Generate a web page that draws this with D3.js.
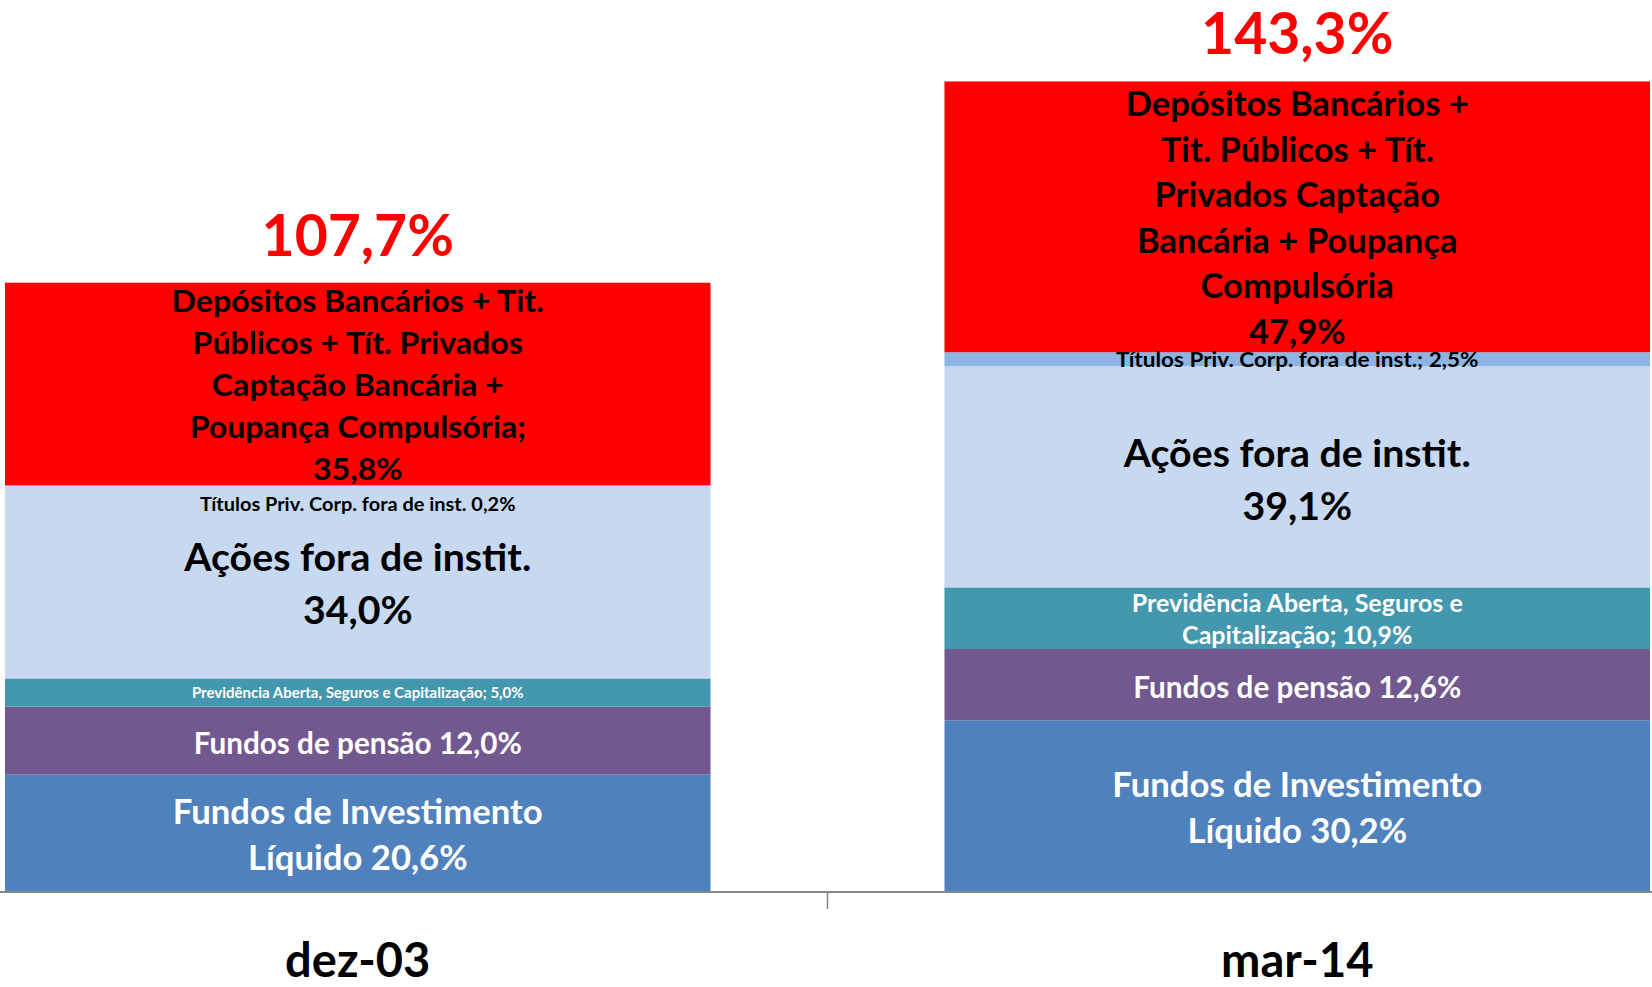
<!DOCTYPE html>
<html lang="pt">
<head>
    <meta charset="UTF-8">
    <title>Composição da poupança financeira</title>
    <script src="https://d3js.org/d3.v7.min.js"></script>
    <style>
        body { margin: 0; background: #fff; }
        svg text { font-family: Lato, "Open Sans", sans-serif; font-weight: 700; }
    </style>
</head>
<body>
    <script>
        // Data (% of GDP)
        const categories = ["dez-03", "mar-14"];
        const totals = ["107,7%", "143,3%"];
        const seriesNames = ["Fundos de Investimento Líquido", "Fundos de pensão",
            "Previdência Aberta, Seguros e Capitalização", "Ações fora de instit.",
            "Títulos Priv. Corp. fora de inst.", "Depósitos Bancários + Tít. Públicos + Tít. Privados"];
        const fundosInvest = [20.6, 30.2];
        const fundosPensao = [12.0, 12.6];
        const previdencia = [5.0, 10.9];
        const acoes = [34.0, 39.1];
        const titulosPriv = [0.2, 2.5];
        const depositos = [35.8, 47.9];

        // Label text, as broken into lines in the original
        const labelsInvest = [["Fundos de Investimento", "Líquido 20,6%"], ["Fundos de Investimento", "Líquido 30,2%"]];
        const labelsPensao = [["Fundos de pensão 12,0%"], ["Fundos de pensão 12,6%"]];
        const labelsPrev = [["Previdência Aberta, Seguros e Capitalização; 5,0%"], ["Previdência Aberta, Seguros e", "Capitalização; 10,9%"]];
        const labelsAcoes = [["Ações fora de instit.", "34,0%"], ["Ações fora de instit.", "39,1%"]];
        const labelsTitulos = [["Títulos Priv. Corp. fora de inst. 0,2%"], ["Títulos Priv. Corp. fora de inst.; 2,5%"]];
        const labelsDep = [
            ["Depósitos Bancários + Tit.", "Públicos + Tít. Privados", "Captação Bancária +", "Poupança Compulsória;", "35,8%"],
            ["Depósitos Bancários +", "Tit. Públicos + Tít.", "Privados Captação", "Bancária + Poupança", "Compulsória", "47,9%"]
        ];

        const seriesValues = [fundosInvest, fundosPensao, previdencia, acoes, titulosPriv, depositos];
        const seriesLabels = [labelsInvest, labelsPensao, labelsPrev, labelsAcoes, labelsTitulos, labelsDep];

        // Styling, per series
        const colors = ["#4F81BD", "#71588F", "#4398AF", "#C6D9F1", "#8DB4E2", "#FF0000"];
        const textColors = ["#fff", "#fff", "#fff", "#000", "#000", "#000"];
        // font size / line height / horizontal stretch per series and bar;
        // dy nudges a label off the centre of its slice (the tiny 0,2% one mostly)
        const labelStyle = [
            [{ fs: 34, lh: 46.5, sx: 1.02, dy: 2 }, { fs: 34, lh: 46.5, sx: 1.02, dy: 2 }],
            [{ fs: 29.7, lh: 40, sx: 1.0, dy: 3 }, { fs: 29.7, lh: 40, sx: 1.0, dy: 3 }],
            [{ fs: 15, lh: 20, sx: 1.0 }, { fs: 25, lh: 32, sx: 1.0, dy: 1 }],
            [{ fs: 38.5, lh: 53, sx: 1.02, dy: 1 }, { fs: 38.5, lh: 53, sx: 1.02, dy: 3 }],
            [{ fs: 19, lh: 20, sx: 1.05, dy: 18.5 }, { fs: 20.5, lh: 20, sx: 1.1 }],
            [{ fs: 30.6, lh: 42, sx: 1.05, dy: 1 }, { fs: 33.9, lh: 45.5, sx: 1.02, dy: 1 }]
        ];

        const width = 1652, height = 987;
        const baseY = 891;

        const svg = d3.select("body").append("svg")
            .attr("width", width)
            .attr("height", height);

        const x = d3.scaleBand()
            .domain(categories)
            .range([-112, 1767])
            .paddingInner(0.249)
            .paddingOuter(0.1245);

        const y = d3.scaleLinear()
            .domain([0, 150])
            .range([baseY, 43]);

        // Stack the series per category
        const table = categories.map((c, i) => {
            const row = { cat: c };
            seriesValues.forEach((vals, k) => { row["s" + k] = vals[i]; });
            return row;
        });
        const stack = d3.stack().keys(seriesValues.map((_, k) => "s" + k));
        const layers = stack(table);

        // Bars
        svg.selectAll("g.layer")
            .data(layers)
            .join("g")
            .attr("class", "layer")
            .attr("fill", (d, k) => colors[k])
            .selectAll("rect")
            .data(d => d)
            .join("rect")
            .attr("x", d => x(d.data.cat))
            .attr("width", x.bandwidth())
            .attr("y", d => y(d[1]))
            .attr("height", d => y(d[0]) - y(d[1]));

        // Segment labels, centred in each slice
        layers.forEach((layer, k) => {
            layer.forEach((seg, i) => {
                const st = labelStyle[k][i];
                const lines = seriesLabels[k][i];
                const cx = x(seg.data.cat) + x.bandwidth() / 2;
                const cy = (y(seg[0]) + y(seg[1])) / 2 + (st.dy || 0);
                const capH = st.fs * 0.72;
                svg.append("text")
                    .attr("text-anchor", "middle")
                    .attr("fill", textColors[k])
                    .attr("font-size", st.fs)
                    .attr("transform", `translate(${cx},0) scale(${st.sx},1)`)
                    .selectAll("tspan")
                    .data(lines)
                    .join("tspan")
                    .attr("x", 0)
                    .attr("y", (t, j) => cy + (j - (lines.length - 1) / 2) * st.lh + capH / 2)
                    .text(t => t);
            });
        });

        // Totals above the bars
        const topLayer = layers[layers.length - 1];
        svg.selectAll("text.total")
            .data(topLayer)
            .join("text")
            .attr("class", "total")
            .attr("text-anchor", "middle")
            .attr("fill", "#FF0000")
            .attr("font-size", 57)
            .attr("x", d => x(d.data.cat) + x.bandwidth() / 2)
            .attr("y", d => y(d[1]) - 27)
            .text((d, i) => totals[i]);

        // Category axis: line with a tick between the categories
        const step = x.step();
        const tickX = x(categories[1]) - step * x.paddingInner() / 2;
        svg.append("line")
            .attr("x1", 0).attr("x2", width)
            .attr("y1", baseY + 1).attr("y2", baseY + 1)
            .attr("stroke", "#868686")
            .attr("stroke-width", 2);
        svg.append("line")
            .attr("x1", tickX).attr("x2", tickX)
            .attr("y1", baseY + 1).attr("y2", baseY + 18)
            .attr("stroke", "#868686")
            .attr("stroke-width", 1.5);

        svg.selectAll("text.cat")
            .data(categories)
            .join("text")
            .attr("class", "cat")
            .attr("text-anchor", "middle")
            .attr("fill", "#000")
            .attr("font-size", 47)
            .attr("x", d => x(d) + x.bandwidth() / 2)
            .attr("y", 977)
            .text(d => d);
    </script>
</body>
</html>
